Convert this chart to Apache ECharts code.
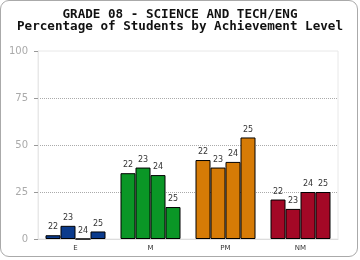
<!DOCTYPE html>
<html><head><meta charset="utf-8">
<script src="https://cdn.jsdelivr.net/npm/echarts@6/dist/echarts.min.js"></script>
<style>
html,body{margin:0;padding:0;background:#fff;}
#wrap{position:absolute;left:0;top:0;width:356px;height:255px;border:1px solid #aaa;border-radius:9px;}
#c{position:absolute;left:0;top:0;width:360px;height:260px;}
</style></head><body>
<div id="wrap"></div>
<div id="c"></div>
<script>
var categories = ['E', 'M', 'PM', 'NM'];
var seriesNames = ['22', '23', '24', '25'];
var values22 = [2, 35, 42, 21];
var values23 = [7, 38, 38, 16];
var values24 = [0, 34, 41, 25];
var values25 = [4, 17, 54, 25];
var categoryColors = ['#0b3b8c', '#0a9626', '#d67b06', '#a30826'];
var yTicks = [0, 25, 50, 75, 100];

var allValues = [values22, values23, values24, values25];
var chart = echarts.init(document.getElementById('c'), null, {renderer: 'canvas'});
var series = seriesNames.map(function (name, i) {
  return {
    name: name,
    type: 'bar',
    data: allValues[i],
    barGap: 0,
    barCategoryGap: '20%',
    itemStyle: {
      color: function (p) { return categoryColors[p.dataIndex]; },
      borderColor: '#000',
      borderWidth: 1
    },
    label: {
      show: true,
      position: 'top',
      distance: 4,
      formatter: name,
      fontFamily: 'DejaVu Sans',
      fontSize: 8,
      color: '#333'
    }
  };
});
chart.setOption({
  animation: false,
  title: {
    text: 'GRADE 08 - SCIENCE AND TECH/ENG\nPercentage of Students by Achievement Level',
    left: 'center',
    top: 4,
    textStyle: {fontFamily: 'DejaVu Sans Mono', fontWeight: 'bold', fontSize: 12.6, lineHeight: 12, color: '#111'}
  },
  grid: {left: 38, right: 22, top: 51, bottom: 21, show: true, borderColor: '#e8e8e8', borderWidth: 1},
  xAxis: {
    type: 'category',
    data: categories,
    axisLine: {lineStyle: {color: '#ddd'}},
    axisTick: {show: false},
    axisLabel: {fontFamily: 'DejaVu Sans', fontSize: 7, color: '#333', margin: 6}
  },
  yAxis: {
    type: 'value',
    min: yTicks[0],
    max: yTicks[yTicks.length - 1],
    interval: 25,
    axisLine: {show: true, lineStyle: {color: '#e8e8e8'}},
    axisTick: {show: true, length: 4, lineStyle: {color: '#999'}},
    axisLabel: {fontFamily: 'DejaVu Sans', fontSize: 10, color: '#aaa', margin: 10},
    splitLine: {show: true, lineStyle: {type: [1, 1], color: ['rgba(0,0,0,0)', '#aaa', '#aaa', '#aaa', 'rgba(0,0,0,0)']}}
  },
  series: series
});
</script>
</body></html>
